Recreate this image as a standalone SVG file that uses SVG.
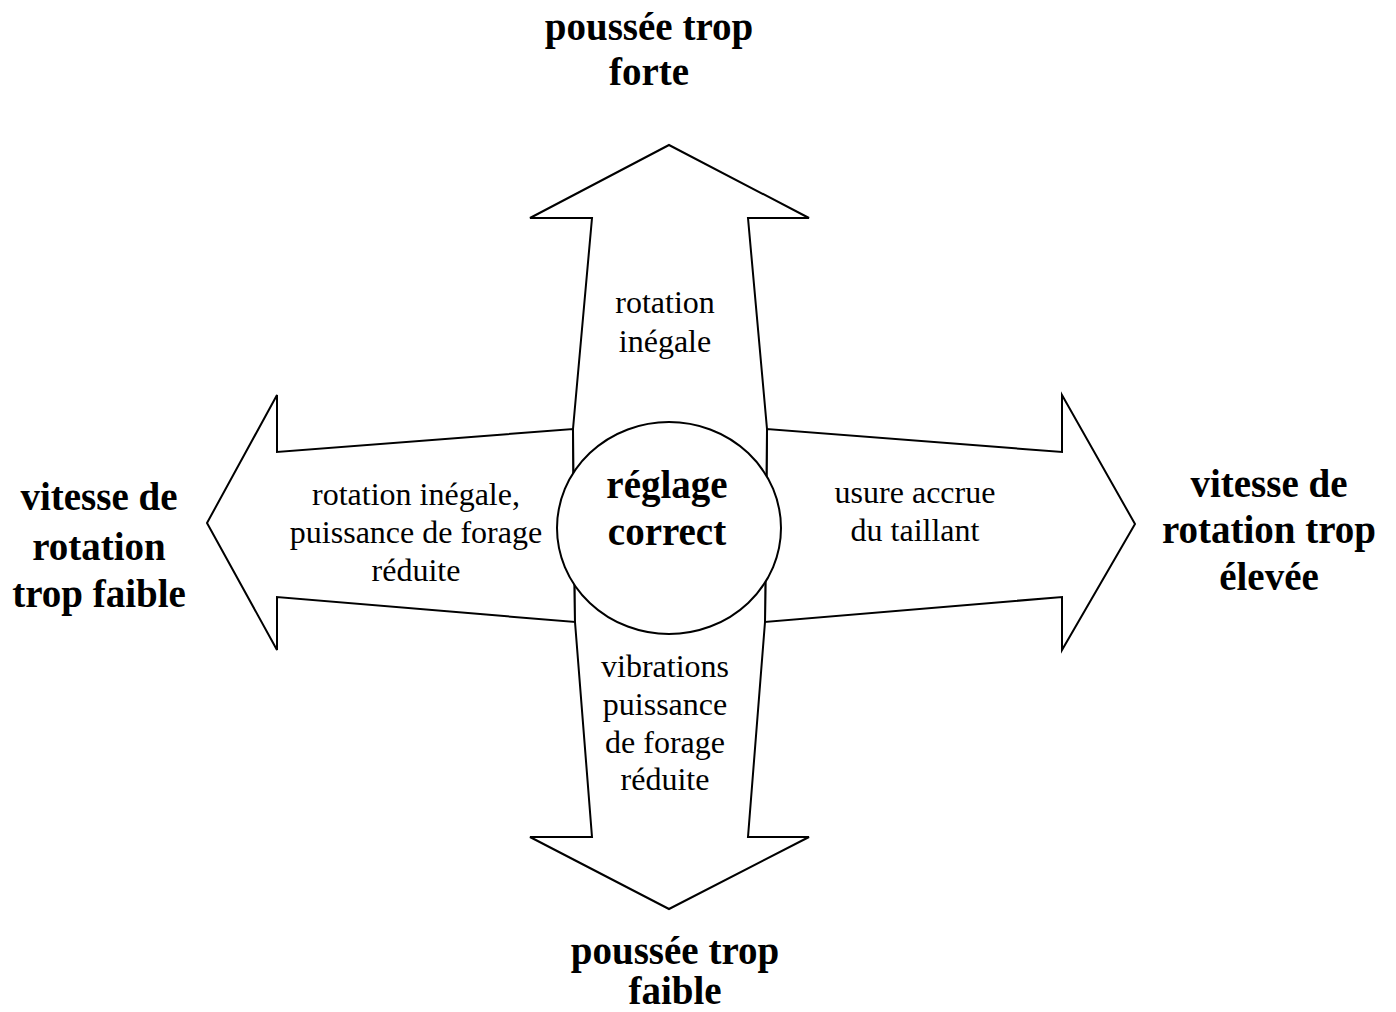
<svg xmlns="http://www.w3.org/2000/svg" width="1396" height="1012" viewBox="0 0 1396 1012">
<style>
.shape{fill:#fff;stroke:#000;stroke-width:2;stroke-linejoin:miter}
.t{font-family:"Liberation Serif","Times New Roman",serif;fill:#000;text-anchor:middle}
.b{font-weight:bold;font-size:39px}
.n{font-size:32px}
</style>
<rect width="1396" height="1012" fill="#fff"/>
<g id="connectors">
<polygon id="arrow-left" class="shape" points="207,523 277,395 277,452 573,429 575,622 277,597 277,650"/>
<polygon id="arrow-right" class="shape" points="1135,524 1062,395 1062,452 767,429 765,622 1062,597 1062,650"/>
<polygon id="arrow-vertical" class="shape" points="669,145 809,218 748,218 767,429 765,622 748,837 809,837 669,909 530,837 592,837 575,622 573,429 592,218 530,218"/>
</g>
<g id="node-center">
<ellipse class="shape" cx="669" cy="528" rx="112" ry="106"/>
<text class="t b" x="667" y="498">réglage</text>
<text class="t b" x="667" y="545">correct</text>
</g>
<g id="node-top">
<text class="t b" x="649" y="40">poussée trop</text>
<text class="t b" x="649" y="85">forte</text>
</g>
<g id="node-bottom">
<text class="t b" x="675" y="964">poussée trop</text>
<text class="t b" x="675" y="1004">faible</text>
</g>
<g id="node-left">
<text class="t b" x="99" y="510">vitesse de</text>
<text class="t b" x="99" y="560">rotation</text>
<text class="t b" x="99" y="607">trop faible</text>
</g>
<g id="node-right">
<text class="t b" x="1269" y="497">vitesse de</text>
<text class="t b" x="1269" y="543">rotation trop</text>
<text class="t b" x="1269" y="590">élevée</text>
</g>
<g id="label-top">
<text class="t n" x="665" y="313">rotation</text>
<text class="t n" x="665" y="352">inégale</text>
</g>
<g id="label-left">
<text class="t n" x="416" y="505">rotation inégale,</text>
<text class="t n" x="416" y="543">puissance de forage</text>
<text class="t n" x="416" y="581">réduite</text>
</g>
<g id="label-right">
<text class="t n" x="915" y="503">usure accrue</text>
<text class="t n" x="915" y="541">du taillant</text>
</g>
<g id="label-bottom">
<text class="t n" x="665" y="677">vibrations</text>
<text class="t n" x="665" y="715">puissance</text>
<text class="t n" x="665" y="753">de forage</text>
<text class="t n" x="665" y="790">réduite</text>
</g>
</svg>
